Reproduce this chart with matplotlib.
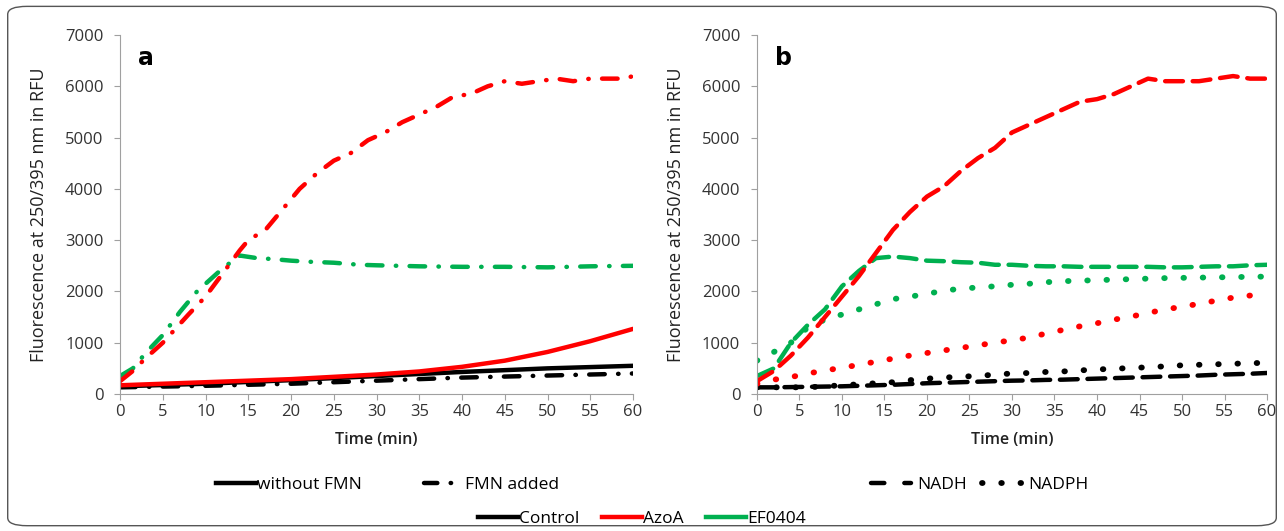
import matplotlib.pyplot as plt
from matplotlib.lines import Line2D
from matplotlib.patches import FancyBboxPatch

plt.rcParams['font.family'] = ['Open Sans', 'DejaVu Sans']

# panel a: FMN experiment
t_azo_fmn = [0, 1.5, 3, 5, 8, 10, 12, 14, 15, 17, 19, 21, 23, 25, 27, 29, 31, 33, 35, 37, 39,
             41, 43, 45, 47, 49, 51, 53, 55, 57, 59, 60]
azo_fmn = [250, 450, 700, 1000, 1550, 1900, 2350, 2800, 3000, 3200, 3600, 4000, 4300, 4550, 4700,
           4950, 5100, 5300, 5450, 5600, 5800, 5850, 6000, 6100, 6050, 6100, 6150, 6100, 6150,
           6150, 6150, 6200]
t_ef_fmn = [0, 1.5, 3, 5, 7, 9, 11, 12, 14, 16, 18, 20, 22, 25, 28, 30, 35, 40, 45, 50, 55, 60]
ef_fmn = [350, 500, 800, 1150, 1600, 2000, 2300, 2450, 2700, 2650, 2630, 2600, 2580, 2560, 2520,
          2510, 2490, 2480, 2480, 2470, 2490, 2500]
t_lin = [0, 10, 20, 30, 35, 40, 45, 50, 55, 60]
ctrl_nofmn = [150, 200, 270, 350, 390, 430, 465, 500, 525, 550]
azo_nofmn = [170, 230, 290, 380, 440, 530, 650, 820, 1030, 1270]
ctrl_fmn = [130, 160, 200, 260, 290, 320, 340, 360, 380, 400]

# panel b: NADH / NADPH
t_b = [0, 2, 4, 6, 8, 10, 12, 14, 16, 18, 20, 22, 24, 26, 28, 30, 32, 34, 36, 38, 40, 42, 44,
       46, 48, 50, 52, 54, 56, 58, 60]
azo_nadh = [250, 450, 750, 1100, 1500, 1900, 2300, 2750, 3200, 3550, 3850, 4050, 4350, 4600,
            4800, 5100, 5250, 5400, 5550, 5700, 5750, 5850, 6000, 6150, 6100, 6100, 6100, 6150,
            6200, 6150, 6150]
ef_nadh = [350, 500, 1000, 1350, 1650, 2100, 2400, 2650, 2680, 2650, 2600, 2590, 2570, 2560,
           2520, 2520, 2500, 2490, 2490, 2480, 2480, 2480, 2480, 2480, 2470, 2470, 2480, 2490,
           2490, 2510, 2520]
ef_nadph = [650, 820, 1000, 1300, 1450, 1550, 1650, 1750, 1850, 1900, 1950, 2020, 2050, 2080,
            2100, 2130, 2150, 2180, 2200, 2210, 2220, 2230, 2240, 2250, 2260, 2265, 2270, 2275,
            2280, 2285, 2290]
azo_nadph = [200, 280, 330, 400, 460, 510, 570, 630, 690, 750, 800, 850, 900, 950, 1000, 1050,
             1100, 1180, 1250, 1320, 1380, 1450, 1510, 1580, 1650, 1700, 1760, 1820, 1880, 1920,
             1960]
ctrl_nadph = [130, 130, 130, 130, 150, 170, 190, 210, 230, 270, 300, 320, 340, 350, 380, 400,
              410, 430, 440, 460, 480, 490, 510, 520, 540, 560, 570, 580, 590, 600, 610]
ctrl_nadh = [130, 130, 135, 140, 145, 150, 160, 170, 180, 195, 210, 220, 230, 240, 250, 260,
             265, 275, 280, 290, 300, 310, 320, 330, 340, 350, 360, 375, 385, 395, 410]

RED = '#ff0000'
GREEN = '#00b050'
BLACK = '#000000'
DASHDOT = (0, (3.5, 3, 0.1, 3))
DASHED = (0, (4, 2.2))
DOTTED = (0, (0.1, 3.2))
LW = 3.2

fig = plt.figure(figsize=(12.84, 5.31), dpi=100)
fig.patches.append(FancyBboxPatch((0.006, 0.01), 0.988, 0.978, boxstyle='round,pad=0,rounding_size=0.015',
                                  transform=fig.transFigure, fill=False, edgecolor='#555555', lw=1))

ax_a = fig.add_axes([0.0935, 0.258, 0.3995, 0.676])
ax_b = fig.add_axes([0.5895, 0.258, 0.3973, 0.676])

kw = dict(dash_capstyle='round', solid_capstyle='round')
ax_a.plot(t_lin, ctrl_fmn, color=BLACK, ls=DASHDOT, lw=LW, **kw)
ax_a.plot(t_lin, ctrl_nofmn, color=BLACK, ls='-', lw=LW, **kw)
ax_a.plot(t_lin, azo_nofmn, color=RED, ls='-', lw=LW, **kw)
ax_a.plot(t_ef_fmn, ef_fmn, color=GREEN, ls=DASHDOT, lw=LW, **kw)
ax_a.plot(t_azo_fmn, azo_fmn, color=RED, ls=DASHDOT, lw=LW, **kw)

ax_b.plot(t_b, ctrl_nadh, color=BLACK, ls=DASHED, lw=LW, **kw)
ax_b.plot(t_b, ctrl_nadph, color=BLACK, ls=DOTTED, lw=4.2, **kw)
ax_b.plot(t_b, azo_nadph, color=RED, ls=DOTTED, lw=4.2, **kw)
ax_b.plot(t_b, ef_nadph, color=GREEN, ls=DOTTED, lw=4.2, **kw)
ax_b.plot(t_b, ef_nadh, color=GREEN, ls=DASHED, lw=LW, **kw)
ax_b.plot(t_b, azo_nadh, color=RED, ls=DASHED, lw=LW, **kw)

for ax, letter in [(ax_a, 'a'), (ax_b, 'b')]:
    ax.set_xlim(0, 60)
    ax.set_ylim(0, 7000)
    ax.set_xticks(range(0, 61, 5))
    ax.set_yticks(range(0, 7001, 1000))
    for s in ['top', 'right']:
        ax.spines[s].set_visible(False)
    for s in ['left', 'bottom']:
        ax.spines[s].set_color('#a0a0a0')
    ax.tick_params(colors='#333333', labelsize=12, length=4, color='#a0a0a0')
    ax.tick_params(axis='y', pad=8)
    ax.set_xlabel('Time (min)', fontsize=11.5, color='#222222', labelpad=8, fontweight='semibold')
    ax.set_ylabel('Fluorescence at 250/395 nm in RFU', fontsize=13, color='#222222', labelpad=12)
    ax.text(0.035, 0.97, letter, transform=ax.transAxes, fontsize=17, fontweight='bold',
            va='top', ha='left', family='DejaVu Sans')

lkw = dict(frameon=False, fontsize=12.5, handlelength=2.3)
h1 = [Line2D([], [], color=BLACK, lw=LW, ls='-'),
      Line2D([], [], color=BLACK, lw=LW, ls=(0, (3, 3, 0.1, 3)), dash_capstyle='round')]
fig.legend(h1, ['without FMN', 'FMN added'], ncol=2, loc='center', columnspacing=3.6,
           handletextpad=0.05, bbox_to_anchor=(0.302, 0.087), **lkw)
h2 = [Line2D([], [], color=BLACK, lw=LW, ls=(0, (3, 4.5)), dash_capstyle='round'),
      Line2D([], [], color=BLACK, lw=4.2, ls=DOTTED, dash_capstyle='round')]
fig.legend(h2, ['NADH', 'NADPH'], ncol=2, loc='center', columnspacing=0.9,
           handletextpad=0.35, bbox_to_anchor=(0.763, 0.087), **lkw)
h3 = [Line2D([], [], color=c, lw=LW) for c in [BLACK, RED, GREEN]]
fig.legend(h3, ['Control', 'AzoA', 'EF0404'], ncol=3, loc='center', columnspacing=1.3,
           handletextpad=0.05, bbox_to_anchor=(0.5, 0.023), **lkw)

fig.savefig('out.png', dpi=100)
